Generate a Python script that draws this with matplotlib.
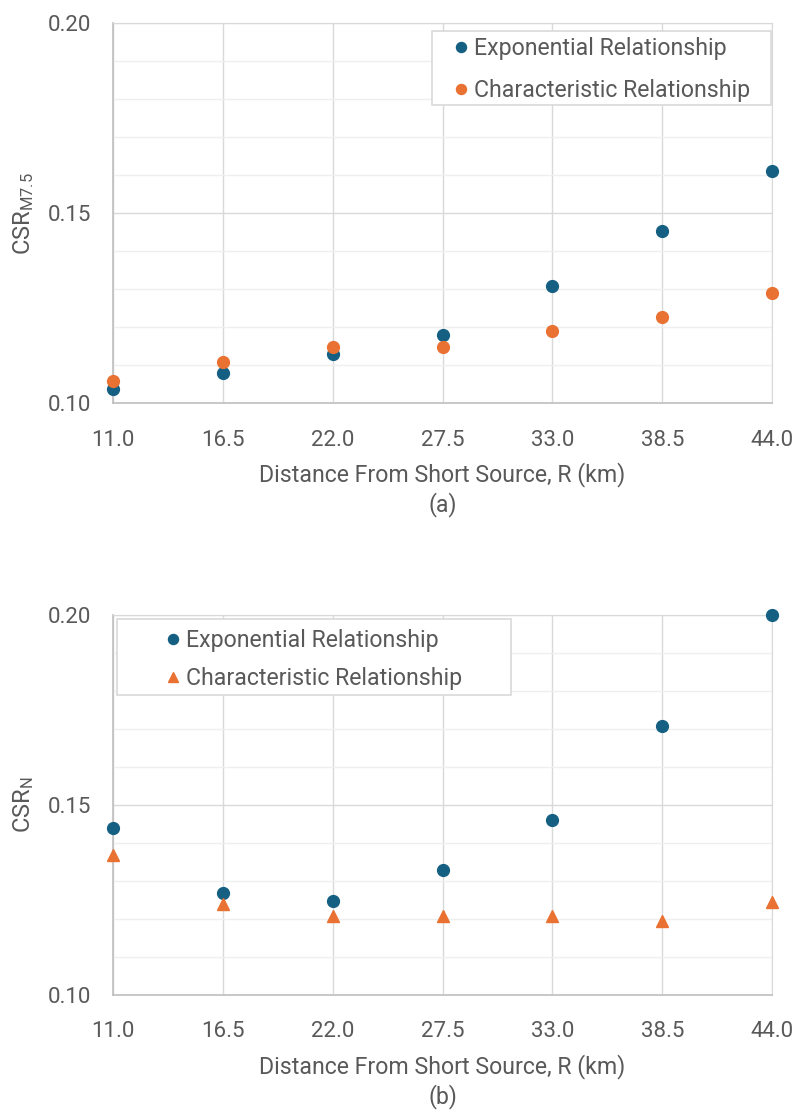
import matplotlib
matplotlib.use("Agg")
import matplotlib.pyplot as plt
from matplotlib.patches import Rectangle
from matplotlib.ticker import MultipleLocator, FormatStrFormatter

plt.rcParams["font.family"] = ["Roboto", "DejaVu Sans"]
plt.rcParams["mathtext.fontset"] = "custom"
plt.rcParams["mathtext.rm"] = "Roboto"
plt.rcParams["mathtext.it"] = "Roboto"

# distance from source, km
distance = [11.0, 16.5, 22.0, 27.5, 33.0, 38.5, 44.0]

# (a) CSR scaled to M7.5
csr_m75_exp = [0.1037, 0.1079, 0.1130, 0.1180, 0.1308, 0.1452, 0.1612]
csr_m75_char = [0.1058, 0.1109, 0.1148, 0.1147, 0.1189, 0.1228, 0.1291]

# (b) CSR_N
csr_n_exp = [0.1439, 0.1269, 0.1248, 0.1328, 0.1460, 0.1708, 0.2000]
csr_n_char = [0.1368, 0.1239, 0.1208, 0.1209, 0.1208, 0.1195, 0.1245]

BLUE = "#156082"
ORANGE = "#E97132"
TEXT = "#595959"

fig = plt.figure(figsize=(7.96, 11.13), dpi=100)
ax_a = fig.add_axes([0.142, 0.6376, 0.828, 0.3417])
ax_b = fig.add_axes([0.142, 0.1060, 0.828, 0.3417])


def style_axes(ax):
    ax.set_xlim(11, 44)
    ax.set_ylim(0.10, 0.20)
    ax.set_xticks(distance)
    ax.xaxis.set_major_formatter(FormatStrFormatter("%.1f"))
    ax.yaxis.set_major_locator(MultipleLocator(0.05))
    ax.yaxis.set_minor_locator(MultipleLocator(0.01))
    ax.yaxis.set_major_formatter(FormatStrFormatter("%.2f"))
    ax.grid(which="major", color="#d9d9d9", lw=1.0)
    ax.grid(which="minor", axis="y", color="#efefef", lw=1.0)
    ax.set_axisbelow(True)
    for side in ["top", "right"]:
        ax.spines[side].set_color("#d9d9d9")
    for side in ["left", "bottom"]:
        ax.spines[side].set_color("#bfbfbf")
        ax.spines[side].set_linewidth(1.2)
    ax.tick_params(which="both", length=0, labelsize=16, labelcolor=TEXT)
    ax.tick_params(axis="x", pad=19)
    ax.tick_params(axis="y", pad=16)


def add_xlabels(ax, tag):
    ax.text(0.5, -0.188, "Distance From Short Source, R (km)", transform=ax.transAxes,
            ha="center", va="center", fontsize=16.7, color=TEXT)
    ax.text(0.5, -0.267, tag, transform=ax.transAxes,
            ha="center", va="center", fontsize=16.7, color=TEXT)


def add_legend(ax, anchor, frame, spacing):
    # white box behind the legend entries
    x0, y0, x1, y1 = frame
    ax.add_patch(Rectangle((x0, y0), x1 - x0, y1 - y0, transform=ax.transAxes,
                           facecolor="white", edgecolor="#d9d9d9", lw=1.2,
                           zorder=4, clip_on=False))
    leg = ax.legend(loc="upper left", bbox_to_anchor=anchor, borderaxespad=0,
                    borderpad=0, frameon=False, fontsize=16.7, labelcolor=TEXT,
                    handlelength=1.0, handletextpad=0.06, markerscale=0.85,
                    labelspacing=spacing)
    leg.set_zorder(5)


# (a)
style_axes(ax_a)
ax_a.plot(distance, csr_m75_exp, "o", ms=8.5, color=BLUE, clip_on=False, zorder=3,
          label="Exponential Relationship")
ax_a.plot(distance, csr_m75_char, "o", ms=8.5, color=ORANGE, clip_on=False, zorder=3,
          label="Characteristic Relationship")
ax_a.set_ylabel(r"CSR$_{\mathrm{M7.5}}$", fontsize=17, color=TEXT)
ax_a.yaxis.set_label_coords(-0.117, 0.5)
add_xlabels(ax_a, "(a)")
add_legend(ax_a, (0.5105, 0.962), (0.484, 0.784, 0.998, 0.979), 0.8)

# (b)
style_axes(ax_b)
ax_b.plot(distance, csr_n_exp, "o", ms=8.5, color=BLUE, clip_on=False, zorder=3,
          label="Exponential Relationship")
ax_b.plot(distance, csr_n_char, "^", ms=9, color=ORANGE, clip_on=False, zorder=3,
          label="Characteristic Relationship")
ax_b.set_ylabel(r"CSR$_{\mathrm{N}}$", fontsize=17, color=TEXT)
ax_b.yaxis.set_label_coords(-0.117, 0.5)
add_xlabels(ax_b, "(b)")
add_legend(ax_b, (0.0734, 0.963), (0.006, 0.789, 0.604, 0.989), 0.66)

fig.savefig("out.png", dpi=100, facecolor="white")
